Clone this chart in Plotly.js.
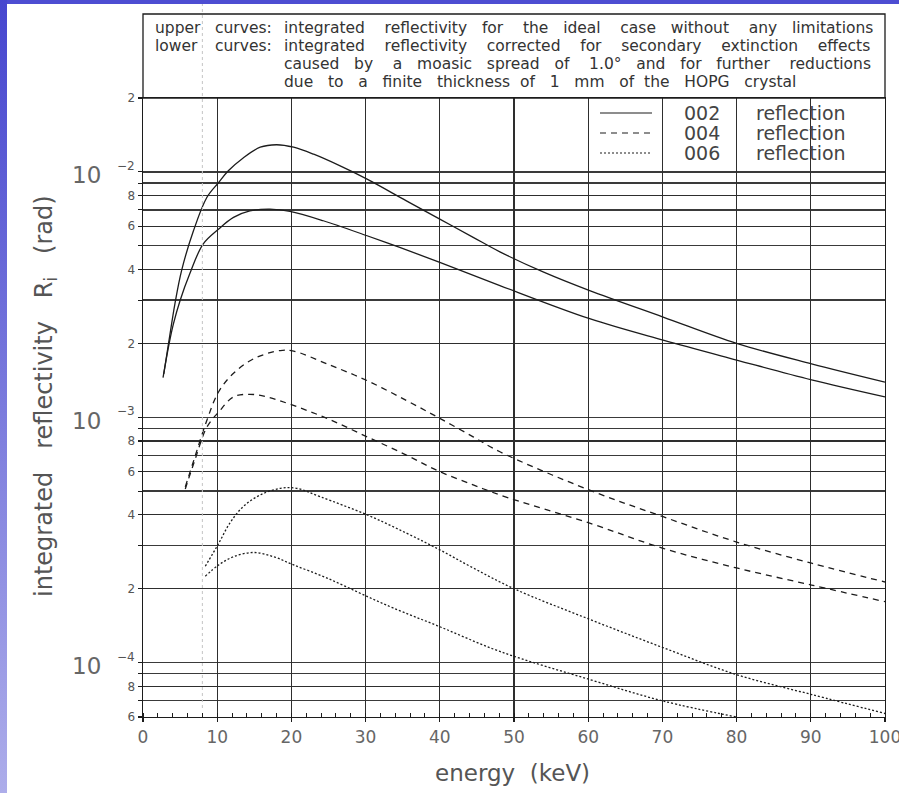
<!DOCTYPE html>
<html><head><meta charset="utf-8">
<script src="https://cdn.plot.ly/plotly-3.0.1.min.js"></script>
<style>
html,body{margin:0;padding:0;background:#fff;}
#wrap{position:relative;width:899px;height:793px;overflow:hidden;background:#fff;}
#chart{position:absolute;left:0;top:0;width:899px;height:793px;}
#topband{position:absolute;left:0;top:0;width:899px;height:4px;background:#4d4dd2;z-index:5;}
#leftband{position:absolute;left:0;top:0;width:7px;height:793px;background:linear-gradient(#4646cf,#adadea);z-index:6;}
</style></head><body>
<div id="wrap"><div id="chart"></div><div id="topband"></div><div id="leftband"></div></div>
<script>
// ---- data (energy in keV, integrated reflectivity in rad) ----
const energyIdeal002 = [2.8, 3.5, 4.3, 5.2, 6.8, 8.6, 10.2, 11.5, 13.5, 15.8, 18.0, 20.3, 23.0, 26.5, 30.2, 35.5, 40.0, 44.5, 48.1, 54.0, 60.2, 70.1, 80.0, 90.1, 100];
const reflIdeal002   = [1.50e-3, 2.05e-3, 2.9e-3, 3.96e-3, 5.75e-3, 7.86e-3, 9.05e-3, 1.01e-2, 1.14e-2, 1.26e-2, 1.29e-2, 1.26e-2, 1.18e-2, 1.06e-2, 9.34e-3, 7.62e-3, 6.42e-3, 5.41e-3, 4.72e-3, 3.90e-3, 3.28e-3, 2.56e-3, 2.00e-3, 1.65e-3, 1.39e-3];

const energyCorr002 = [2.7, 3.5, 4.1, 5.0, 6.3, 8.1, 10.2, 12.2, 14.4, 17.1, 19.8, 24.3, 30.2, 34.6, 40.0, 48.1, 60.2, 70.1, 80.0, 90.1, 100];
const reflCorr002   = [1.45e-3, 1.98e-3, 2.40e-3, 2.99e-3, 3.84e-3, 5.08e-3, 5.85e-3, 6.52e-3, 6.93e-3, 7.05e-3, 6.90e-3, 6.32e-3, 5.49e-3, 4.92e-3, 4.28e-3, 3.44e-3, 2.52e-3, 2.06e-3, 1.71e-3, 1.42e-3, 1.21e-3];

const energyIdeal004 = [5.7, 7.0, 8.6, 10.2, 12.2, 14.9, 18.5, 20.3, 24.8, 30.2, 35.5, 40.0, 44.5, 48.1, 60.2, 70.1, 80.0, 90.1, 100];
const reflIdeal004   = [5.2e-4, 6.9e-4, 9.7e-4, 1.27e-3, 1.51e-3, 1.73e-3, 1.87e-3, 1.86e-3, 1.65e-3, 1.41e-3, 1.17e-3, 9.89e-4, 8.32e-4, 7.23e-4, 5.04e-4, 3.93e-4, 3.10e-4, 2.54e-4, 2.13e-4];

const energyCorr004 = [5.7, 7.0, 8.6, 10.2, 12.2, 14.4, 16.7, 19.8, 24.8, 30.2, 35.5, 40.0, 44.5, 48.1, 60.2, 70.1, 80.0, 90.1, 100];
const reflCorr004   = [5.1e-4, 6.7e-4, 9.1e-4, 1.05e-3, 1.21e-3, 1.24e-3, 1.21e-3, 1.13e-3, 9.89e-4, 8.32e-4, 7.01e-4, 6.00e-4, 5.30e-4, 4.82e-4, 3.70e-4, 2.92e-4, 2.43e-4, 2.07e-4, 1.77e-4];

const energyIdeal006 = [8.4, 10.2, 11.7, 13.5, 15.8, 18.5, 20.7, 23.9, 30.2, 35.5, 40.0, 44.5, 50.0, 60.2, 70.1, 80.0, 90.1, 100];
const reflIdeal006   = [2.47e-4, 3.06e-4, 3.70e-4, 4.32e-4, 4.82e-4, 5.13e-4, 5.13e-4, 4.74e-4, 4.00e-4, 3.37e-4, 2.88e-4, 2.43e-4, 2.00e-4, 1.50e-4, 1.15e-4, 8.93e-5, 7.41e-5, 6.2e-5];

const energyCorr006 = [8.4, 10.2, 12.2, 14.9, 17.6, 20.3, 24.8, 30.2, 33.7, 40.0, 48.1, 60.2, 70.1, 80.0];
const reflCorr006   = [2.25e-4, 2.50e-4, 2.70e-4, 2.81e-4, 2.70e-4, 2.50e-4, 2.21e-4, 1.86e-4, 1.67e-4, 1.40e-4, 1.11e-4, 8.53e-5, 6.97e-5, 6.0e-5];

const xTickVals = [0, 10, 20, 30, 40, 50, 60, 70, 80, 90, 100];
const xTickText = ['0', '10', '20', '30', '40', '50', '60', '70', '80', '90', '100'];
const yTickVals = [6e-5, 8e-5, 2e-4, 4e-4, 6e-4, 8e-4, 2e-3, 4e-3, 6e-3, 8e-3, 2e-2];
const yTickText = ['6', '8', '2', '4', '6', '8', '2', '4', '6', '8', '2'];
const yGridOnly = [7e-5, 9e-5, 1e-4, 3e-4, 5e-4, 7e-4, 9e-4, 1e-3, 3e-3, 5e-3, 7e-3, 9e-3, 1e-2];
const decadeExponents = [-2, -3, -4];
const legendLabels = ['002', '004', '006'];
const legendWord = 'reflection';
const headerLines = [
  ['integrated', 'reflectivity', 'for', 'the', 'ideal', 'case', 'without', 'any', 'limitations'],
  ['integrated', 'reflectivity', 'corrected', 'for', 'secondary', 'extinction', 'effects'],
  ['caused', 'by', 'a', 'moasic', 'spread', 'of', '1.0\u00b0', 'and', 'for', 'further', 'reductions'],
  ['due', 'to', 'a', 'finite', 'thickness', 'of', '1', 'mm', 'of', 'the', 'HOPG', 'crystal']
];
const headerLeft = [['upper', 'curves:'], ['lower', 'curves:']];

// ---- styling ----
const INK = '#1c1c1c';
const FONT = 'DejaVu Sans';
const NB = '\u00a0';
const nb = s => s.replace(/ /g, NB);
const X0 = 143, YB = 717; // plot origin in pixels (left, bottom)
function pxText(text, px, py, size, color, anchor) {
  return {xref: 'paper', yref: 'paper', x: 0, y: 0, xshift: px - X0, yshift: YB - py,
    xanchor: anchor || 'left', yanchor: 'middle', showarrow: false, text: nb(text),
    font: {family: FONT, size: size, color: color}};
}
const lineStyles = ['solid', '6px,5px', '2px,2px'];
function curve(x, y, dash) {
  return {x: x, y: y, type: 'scatter', mode: 'lines', hoverinfo: 'skip', showlegend: false,
    line: {color: INK, width: 1.3, dash: dash, shape: 'spline', smoothing: 1}};
}
const traces = [
  curve(energyIdeal002, reflIdeal002, lineStyles[0]),
  curve(energyCorr002, reflCorr002, lineStyles[0]),
  curve(energyIdeal004, reflIdeal004, lineStyles[1]),
  curve(energyCorr004, reflCorr004, lineStyles[1]),
  curve(energyIdeal006, reflIdeal006, lineStyles[2]),
  curve(energyCorr006, reflCorr006, lineStyles[2])
];

const annotations = [];
// header text
const HF = 15.5;
const headerY = [28, 46, 64, 82];
const headerGaps = [[4,3,4,3,4,3,4,3], [4,4,4,4,4,4], [3,4,3,3,3,4,3,3,3,4], [3,3,3,3,2,3,3,3,2,3,3]];
headerLeft.forEach((pair, i) => {
  annotations.push(pxText(pair[0], 153, headerY[i], HF, '#333'));
  annotations.push(pxText(pair[1], 213, headerY[i], HF, '#333'));
});
headerLines.forEach((words, i) => {
  let t = words[0];
  for (let k = 1; k < words.length; k++) t += NB.repeat(headerGaps[i][k - 1]) + words[k];
  annotations.push(pxText(t, 282, headerY[i], HF, '#333'));
});
// decade labels 10^-n
decadeExponents.forEach(e => {
  annotations.push({xref: 'paper', yref: 'y', x: 0, y: e, xshift: -40, yshift: -3.5, xanchor: 'right', yanchor: 'middle',
    showarrow: false, text: '10', font: {family: FONT, size: 23, color: '#666'}});
  annotations.push({xref: 'paper', yref: 'y', x: 0, y: e, xshift: -28, yshift: 6, xanchor: 'left', yanchor: 'middle',
    showarrow: false, text: '\u2212' + Math.abs(e), font: {family: FONT, size: 12, color: '#555'}});
});
// legend
const legendY = [113, 133, 153];
legendLabels.forEach((lab, i) => {
  annotations.push(pxText(lab, 702, legendY[i], 19, '#444', 'center'));
  annotations.push(pxText(legendWord, 801, legendY[i], 19, '#444', 'center'));
});
// axis titles
annotations.push(Object.assign(pxText('integrated   reflectivity   R<sub>i</sub>   (rad)', 45, 396, 24, '#555', 'center'), {textangle: -90}));
annotations.push(pxText('energy  (keV)', 512, 773, 23, '#555', 'center'));

const PH = 619; // plot height px
const shapes = [
  // header box above the plot
  {type: 'rect', xref: 'paper', yref: 'paper', x0: 0, x1: 1, y0: 1, y1: 1 + 84 / PH, line: {color: INK, width: 1.3}},
  // faint scan line at 8 keV
  {type: 'line', xref: 'x', yref: 'paper', x0: 8, x1: 8, y0: 9 / PH, y1: 1 + 105 / PH, line: {color: '#c4c4c4', width: 1, dash: 'dot'}}
];
legendY.forEach((py, i) => {
  const yp = (YB - py) / PH;
  shapes.push({type: 'line', xref: 'paper', yref: 'paper', x0: (600 - X0) / 742, x1: (652 - X0) / 742, y0: yp, y1: yp,
    line: {color: INK, width: 1.2, dash: lineStyles[i]}});
});

const layout = {
  width: 899, height: 793,
  margin: {l: 143, r: 14, t: 98, b: 76, pad: 0},
  paper_bgcolor: '#fff', plot_bgcolor: '#fff',
  font: {family: FONT, color: '#555'},
  showlegend: false,
  xaxis: {range: [0, 100], tickmode: 'array', tickvals: xTickVals, ticktext: xTickText,
    ticks: 'outside', ticklen: 4, tickcolor: INK, tickwidth: 1.2, ticklabeloverflow: 'allow',
    showgrid: true, gridcolor: '#2e2e2e', gridwidth: 1.3, zeroline: false,
    showline: true, linecolor: INK, linewidth: 1.4, mirror: true,
    tickfont: {family: FONT, size: 17, color: '#666'},
    minor: {dtick: 2, ticks: 'inside', ticklen: 4, tickcolor: INK, tickwidth: 1, showgrid: false}},
  yaxis: {type: 'log', range: [Math.log10(6e-5), Math.log10(2e-2)], tickmode: 'array', tickvals: yTickVals, ticktext: yTickText,
    ticks: 'outside', ticklen: 4, tickcolor: INK, tickwidth: 1.2,
    showgrid: true, gridcolor: '#2e2e2e', gridwidth: 1.3, zeroline: false,
    showline: true, linecolor: INK, linewidth: 1.4, mirror: true,
    tickfont: {family: FONT, size: 12, color: '#555'},
    minor: {tickmode: 'array', tickvals: yGridOnly, ticks: 'outside', ticklen: 4, tickcolor: INK, tickwidth: 1,
      showgrid: true, gridcolor: '#3a3a3a', gridwidth: 1.3}},
  annotations: annotations,
  shapes: shapes
};
Plotly.newPlot('chart', traces, layout, {staticPlot: true, displayModeBar: false});
</script></body></html>
